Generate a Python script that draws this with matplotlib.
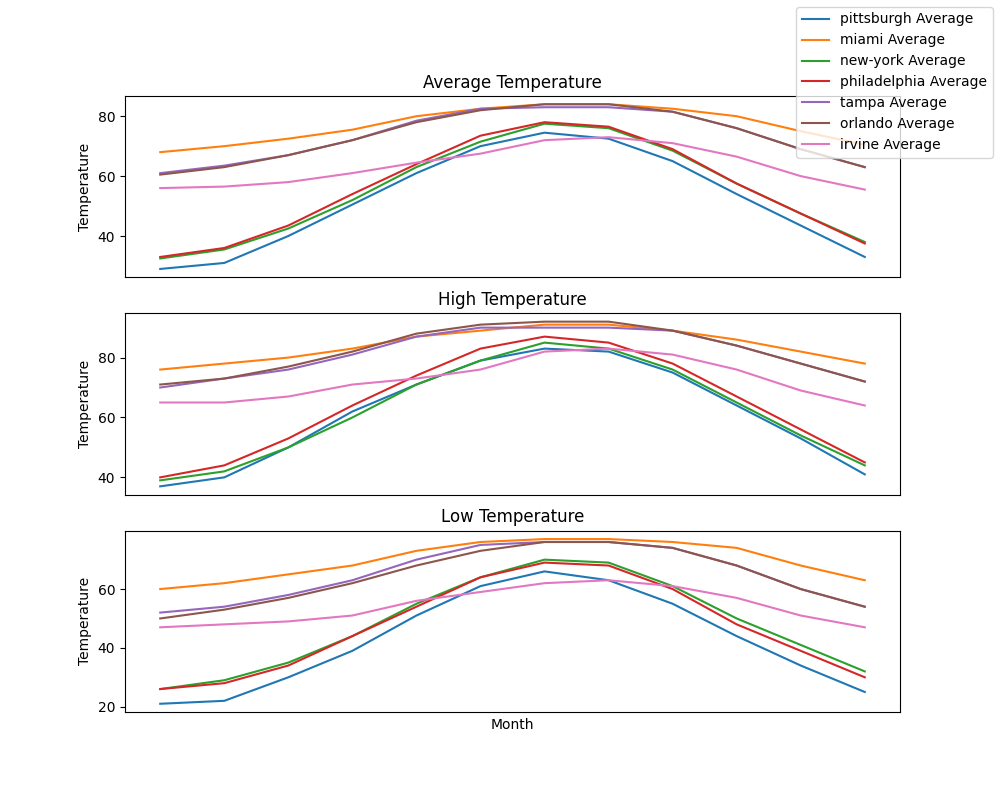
import numpy as np
import matplotlib
matplotlib.use("Agg")
import matplotlib.pyplot as plt

# kota dan bulan
cities = ["pittsburgh", "miami", "new-york", "philadelphia", "tampa", "orlando", "irvine"]
months = np.arange(12)

# suhu rata-rata
avg_pittsburgh = [29, 31, 40, 50.5, 61, 70, 74.5, 72.5, 65, 54, 43.5, 33]
avg_miami = [68, 70, 72.5, 75.5, 80, 82.5, 84, 84, 82.5, 80, 75, 70.5]
avg_newyork = [32.5, 35.5, 42.5, 52, 63, 71.5, 77.5, 76, 68.5, 57.5, 47.5, 38]
avg_philadelphia = [33, 36, 43.5, 54, 64, 73.5, 78, 76.5, 69, 57.5, 47.5, 37.5]
avg_tampa = [61, 63.5, 67, 72, 78.5, 82.5, 83, 83, 81.5, 76, 69, 63]
avg_orlando = [60.5, 63, 67, 72, 78, 82, 84, 84, 81.5, 76, 69, 63]
avg_irvine = [56, 56.5, 58, 61, 64.5, 67.5, 72, 73, 71, 66.5, 60, 55.5]

# suhu tertinggi
high_pittsburgh = [37, 40, 50, 62, 71, 79, 83, 82, 75, 64, 53, 41]
high_miami = [76, 78, 80, 83, 87, 89, 91, 91, 89, 86, 82, 78]
high_newyork = [39, 42, 50, 60, 71, 79, 85, 83, 76, 65, 54, 44]
high_philadelphia = [40, 44, 53, 64, 74, 83, 87, 85, 78, 67, 56, 45]
high_tampa = [70, 73, 76, 81, 87, 90, 90, 90, 89, 84, 78, 72]
high_orlando = [71, 73, 77, 82, 88, 91, 92, 92, 89, 84, 78, 72]
high_irvine = [65, 65, 67, 71, 73, 76, 82, 83, 81, 76, 69, 64]

# suhu terendah
low_pittsburgh = [21, 22, 30, 39, 51, 61, 66, 63, 55, 44, 34, 25]
low_miami = [60, 62, 65, 68, 73, 76, 77, 77, 76, 74, 68, 63]
low_newyork = [26, 29, 35, 44, 55, 64, 70, 69, 61, 50, 41, 32]
low_philadelphia = [26, 28, 34, 44, 54, 64, 69, 68, 60, 48, 39, 30]
low_tampa = [52, 54, 58, 63, 70, 75, 76, 76, 74, 68, 60, 54]
low_orlando = [50, 53, 57, 62, 68, 73, 76, 76, 74, 68, 60, 54]
low_irvine = [47, 48, 49, 51, 56, 59, 62, 63, 61, 57, 51, 47]

avg_all = [avg_pittsburgh, avg_miami, avg_newyork, avg_philadelphia, avg_tampa, avg_orlando, avg_irvine]
high_all = [high_pittsburgh, high_miami, high_newyork, high_philadelphia, high_tampa, high_orlando, high_irvine]
low_all = [low_pittsburgh, low_miami, low_newyork, low_philadelphia, low_tampa, low_orlando, low_irvine]

fig, axes = plt.subplots(3, 1, figsize=(10, 8), dpi=100)

panels = [("Average Temperature", avg_all), ("High Temperature", high_all), ("Low Temperature", low_all)]
for ax, (judul, data) in zip(axes, panels):
    for kota, nilai in zip(cities, data):
        ax.plot(months, nilai, label=kota + " Average")
    ax.set_title(judul)
    ax.set_ylabel("Temperature")
    ax.set_xticks([])

axes[2].set_xlabel("Month")

handles, labels = axes[0].get_legend_handles_labels()
fig.legend(handles, labels, loc="upper right")

plt.savefig("out.png")
